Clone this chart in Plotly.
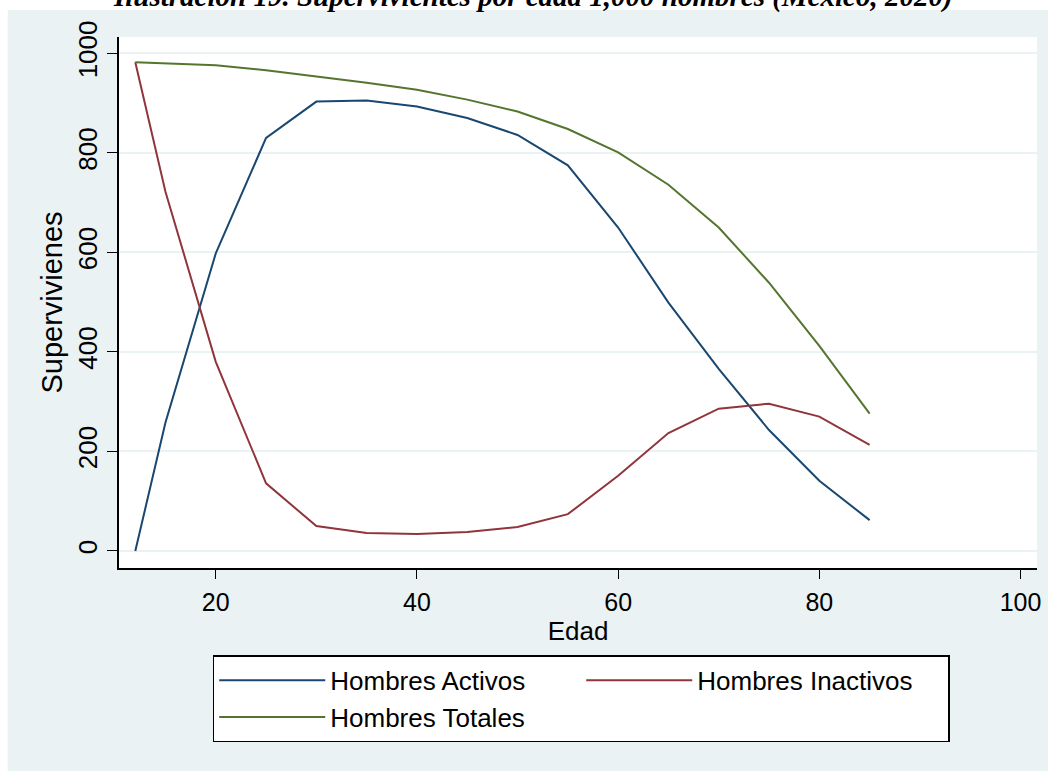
import plotly.graph_objects as go

edad = [12, 15, 20, 25, 30, 35, 40, 45, 50, 55, 60, 65, 70, 75, 80, 85]
activos = [0, 258, 598, 830, 903, 905, 893, 870, 836, 775, 650, 499, 366, 243, 141, 62]
inactivos = [982, 722, 380, 136, 50, 36, 34, 38, 48, 74, 151, 237, 286, 296, 270, 213]
totales = [982, 980, 976, 966, 954, 941, 927, 907, 883, 848, 801, 736, 650, 539, 412, 276]

series_names = ["Hombres Activos", "Hombres Inactivos", "Hombres Totales"]
series_colors = ["#1a476f", "#90353b", "#55752f"]
x_ticks = [20, 40, 60, 80, 100]
y_ticks = [0, 200, 400, 600, 800, 1000]

BG = "#EAF2F3"
SANS = "Liberation Sans, Arial, sans-serif"

fig = go.Figure()
for name, ys, col in zip(series_names, [activos, inactivos, totales], series_colors):
    fig.add_trace(go.Scatter(x=edad, y=ys, mode="lines", name=name,
                             line=dict(color=col, width=2)))

W, H = 1048, 771
L, R, T, B = 119.3, 1037.0, 37.0, 567.7
pw, ph = R - L, B - T

def px(X):
    return (X - L) / pw

def py(Y):
    return (B - Y) / ph

fig.update_layout(
    width=W, height=H,
    margin=dict(l=L, r=W - R, t=T, b=H - B, pad=0, autoexpand=False),
    paper_bgcolor=BG,
    plot_bgcolor="white",
    showlegend=True,
    legend=dict(
        orientation="h",
        x=px(213), y=py(655), xanchor="left", yanchor="top",
        bgcolor="white", bordercolor="black", borderwidth=1.5,
        font=dict(family=SANS, size=26, color="black"),
        itemwidth=106,
        entrywidth=246,
        traceorder="normal",
    ),
    xaxis=dict(
        range=[10.38, 101.64], tickvals=x_ticks, ticks="outside", ticklen=9,
        tickcolor="black", tickwidth=1.3,
        showline=True, linecolor="black", linewidth=1.5,
        showgrid=False, zeroline=False,
        tickfont=dict(family=SANS, size=25, color="black"),
        ticklabelstandoff=2,
        title=dict(text="Edad", font=dict(family=SANS, size=26, color="black"), standoff=0),
    ),
    yaxis=dict(
        range=[-34.2, 1032.8], tickvals=y_ticks, ticks="outside", ticklen=10,
        tickcolor="black", tickwidth=1.3, tickangle=-90,
        showline=True, linecolor="black", linewidth=1.5,
        showgrid=True, gridcolor=BG, gridwidth=2, zeroline=False,
        tickfont=dict(family=SANS, size=26, color="black"),
        title=dict(text="Supervivienes", font=dict(family=SANS, size=29, color="black"), standoff=2),
    ),
    shapes=[
        dict(type="rect", xref="paper", yref="paper", x0=px(-20), x1=px(8), y0=py(800), y1=py(-20),
             fillcolor="white", line=dict(width=0), layer="below"),
        dict(type="rect", xref="paper", yref="paper", x0=px(-20), x1=px(1070), y0=py(10), y1=py(-20),
             fillcolor="white", line=dict(width=0), layer="below"),
    ],
    annotations=[
        dict(text="<b><i>Ilustración 19. Supervivientes por edad 1,000 hombres (México, 2020)</i></b>",
             xref="paper", yref="paper", x=px(533), y=py(-3), xanchor="center", yanchor="middle",
             showarrow=False, font=dict(family="Liberation Serif, Times New Roman, serif", size=29, color="black")),
    ],
)

fig.write_html("out.html")
